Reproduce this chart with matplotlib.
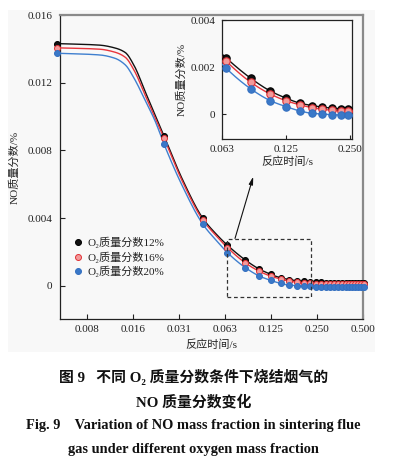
import matplotlib
matplotlib.use("Agg")
import matplotlib.pyplot as plt
from matplotlib.patches import Rectangle
import numpy as np

# ---------------- data ----------------
t_marker = [0.005, 0.025, 0.045, 0.065, 0.085, 0.105, 0.125, 0.145, 0.165, 0.185,
            0.205, 0.225, 0.245, 0.265, 0.285, 0.305, 0.325, 0.345, 0.365, 0.385,
            0.405, 0.425, 0.445, 0.465, 0.485, 0.505]
no_12 = [0.01431, 0.00888, 0.00398, 0.00240, 0.00153, 0.00099, 0.00068, 0.00047, 0.00037, 0.00030,
         0.00026, 0.00023, 0.00021, 0.00020, 0.00019, 0.00018, 0.00018, 0.00017, 0.00017, 0.00016,
         0.00016, 0.00016, 0.00015, 0.00015, 0.00015, 0.00015]
no_16 = [0.01406, 0.00875, 0.00388, 0.00226, 0.00136, 0.00086, 0.00057, 0.00040, 0.00028, 0.00021,
         0.00017, 0.00014, 0.00013, 0.00012, 0.00011, 0.00011, 0.00010, 0.00010, 0.00010, 0.00010,
         0.00009, 0.00009, 0.00009, 0.00009, 0.00009, 0.00009]
no_20 = [0.01374, 0.00839, 0.00363, 0.00196, 0.00108, 0.00058, 0.00032, 0.00014, 0.00004, 0.00001,
         -0.00002, -0.00003, -0.00004, -0.00004, -0.00004, -0.00004, -0.00004, -0.00004, -0.00004, -0.00004,
         -0.00004, -0.00004, -0.00004, -0.00004, -0.00004, -0.00004]

# extra points (between markers)
t_curve_extra = [0.0095, 0.012, 0.014, 0.016, 0.019, 0.022, 0.033, 0.055]
curve12_extra = [0.01422, 0.01405, 0.01378, 0.01300, 0.01141, 0.01006, 0.00630, 0.00305]
curve16_extra = [0.01398, 0.01380, 0.01350, 0.01272, 0.01120, 0.00990, 0.00618, 0.00295]
curve20_extra = [0.01364, 0.01344, 0.01305, 0.01225, 0.01090, 0.00970, 0.00590, 0.00268]

series_labels = ["O₂质量分数12%", "O₂质量分数16%", "O₂质量分数20%"]
x_ticks = [2**-7, 2**-6, 2**-5, 2**-4, 2**-3, 2**-2, 2**-1]
x_ticklabels = ["0.008", "0.016", "0.031", "0.063", "0.125", "0.250", "0.500"]
y_ticks = [0, 0.004, 0.008, 0.012, 0.016]
y_ticklabels = ["0", "0.004", "0.008", "0.012", "0.016"]
inset_x_ticks = [2**-4, 2**-3, 2**-2]
inset_x_ticklabels = ["0.063", "0.125", "0.250"]
inset_y_ticks = [0, 0.002, 0.004]
inset_y_ticklabels = ["0", "0.002", "0.004"]

caption_cn1 = "图 9   不同 O₂ 质量分数条件下烧结烟气的"
caption_cn2 = "NO 质量分数变化"
caption_en1 = "Fig. 9    Variation of NO mass fraction in sintering flue"
caption_en2 = "gas under different oxygen mass fraction"

# ---------------- style ----------------
SERIF = ["Liberation Serif", "Noto Sans CJK SC", "DejaVu Sans"]
plt.rcParams["font.family"] = SERIF
line_colors = ["#111111", "#e8353c", "#3f7fcf"]
marker_face = ["#111111", "#f39a9a", "#3a78c8"]
marker_edge = ["#000000", "#e03035", "#3470c0"]

W, H = 398, 465
fig = plt.figure(figsize=(W / 100, H / 100), dpi=100)

fig.patches.append(Rectangle((8 / W, 1 - 352 / H), (375 - 8) / W, (352 - 10) / H,
                             transform=fig.transFigure, facecolor="#f8f8f8",
                             edgecolor="none", zorder=-10))


def merged(extra_t, extra_v, mt, mv):
    pairs = sorted(zip(list(extra_t) + list(mt), list(extra_v) + list(mv)))
    return np.array([p[0] for p in pairs]), np.array([p[1] for p in pairs])


def smooth_line(t, v, n=400):
    """Monotone (PCHIP) smoothing of the drawn line in log2(t) space."""
    x = np.log2(t)
    y = np.asarray(v, float)
    h = np.diff(x)
    d = np.diff(y) / h
    m = np.zeros_like(y)
    for k in range(1, len(y) - 1):
        if d[k - 1] * d[k] <= 0:
            m[k] = 0.0
        else:
            w1 = 2 * h[k] + h[k - 1]
            w2 = h[k] + 2 * h[k - 1]
            m[k] = (w1 + w2) / (w1 / d[k - 1] + w2 / d[k])
    m[0] = d[0]
    m[-1] = d[-1]
    xn = np.linspace(x[0], x[-1], n)
    idx = np.clip(np.searchsorted(x, xn) - 1, 0, len(h) - 1)
    hh = h[idx]
    s = (xn - x[idx]) / hh
    h00 = 2 * s**3 - 3 * s**2 + 1
    h10 = s**3 - 2 * s**2 + s
    h01 = -2 * s**3 + 3 * s**2
    h11 = s**3 - s**2
    yn = h00 * y[idx] + h10 * hh * m[idx] + h01 * y[idx + 1] + h11 * hh * m[idx + 1]
    return 2 ** xn, yn


curves = [(curve12_extra, no_12), (curve16_extra, no_16), (curve20_extra, no_20)]

# ---------------- main axes ----------------
ax = fig.add_axes([59.5 / W, 1 - 319 / H, (363 - 59.5) / W, (319 - 15) / H])
ax.set_facecolor("none")
ax.set_xscale("log", base=2)
for i, (cx, mv) in enumerate(curves):
    lt, lv = merged(t_curve_extra, cx, t_marker, mv)
    st, sv = smooth_line(lt, lv)
    ax.plot(st, sv, color=line_colors[i], lw=1.0, zorder=2 + i, clip_on=False)
    ax.plot(t_marker, mv, linestyle="none", marker="o", ms=4.3,
            mfc=marker_face[i], mec=marker_edge[i], mew=0.7,
            label=series_labels[i], zorder=5 + i, clip_on=False)
ax.set_xlim(0.0052, 0.5)
ax.set_ylim(-0.00196, 0.016)
ax.set_xticks(x_ticks)
ax.set_xticklabels(x_ticklabels)
ax.xaxis.set_minor_locator(matplotlib.ticker.NullLocator())
ax.set_yticks(y_ticks)
ax.set_yticklabels(y_ticklabels)
ax.tick_params(direction="in", length=3.5, width=0.8, labelsize=8, colors="#222222")
ax.tick_params(axis="y", pad=5)
ax.tick_params(axis="x", pad=4)
for s in ["left", "bottom"]:
    ax.spines[s].set_color("#222222")
    ax.spines[s].set_linewidth(0.9)
for s in ["top", "right"]:
    ax.spines[s].set_color("#8a8a8a")
    ax.spines[s].set_linewidth(1.6)
ax.set_xlabel("反应时间/s", fontsize=8, labelpad=4, color="#222222")
ax.set_ylabel("NO质量分数/%", fontsize=8, labelpad=6, color="#222222")

# dashed zoom box
box_x0, box_x1 = 0.0647, 0.2294
box_y0, box_y1 = -0.00066, 0.00275
ax.plot([box_x0, box_x1, box_x1, box_x0, box_x0],
        [box_y0, box_y0, box_y1, box_y1, box_y0],
        color="#333333", lw=0.9, ls=(0, (3, 2.2)), zorder=10)
ax.annotate("", xy=(0.0959, 0.00645), xytext=(0.0729, 0.0028),
            arrowprops=dict(arrowstyle="-|>,head_length=0.45,head_width=0.12",
                            color="#111111", lw=0.8, shrinkA=0, shrinkB=0), zorder=11)

leg = ax.legend(loc="upper left", bbox_to_anchor=(0.035, 0.285), frameon=False,
                fontsize=8, handlelength=0.6, handletextpad=0.6,
                labelspacing=0.28, borderaxespad=0)
for t in leg.get_texts():
    t.set_color("#222222")

# ---------------- inset ----------------
axi = fig.add_axes([222.3 / W, 1 - 139 / H, (351.7 - 222.3) / W, (139 - 20) / H])
axi.set_facecolor("#fbfbfb")
axi.set_xscale("log", base=2)
for i, (cx, mv) in enumerate(curves):
    lt, lv = merged(t_curve_extra, cx, t_marker, mv)
    st, sv = smooth_line(lt, lv, n=1200)
    axi.plot(st, sv, color=line_colors[i], lw=1.0, zorder=2 + i)
    axi.plot(t_marker, mv, linestyle="none", marker="o", ms=5.3,
             mfc=marker_face[i], mec=marker_edge[i], mew=0.8, zorder=5 + i)
axi.set_xlim(2**-4, 0.254)
axi.set_ylim(-0.00105, 0.004)
axi.set_xticks(inset_x_ticks)
axi.set_xticklabels(inset_x_ticklabels)
axi.xaxis.set_minor_locator(matplotlib.ticker.NullLocator())
axi.set_yticks(inset_y_ticks)
axi.set_yticklabels(inset_y_ticklabels)
axi.tick_params(direction="in", length=3, width=0.8, labelsize=8, colors="#222222")
axi.tick_params(axis="y", pad=5)
axi.tick_params(axis="x", pad=4)
for s in axi.spines.values():
    s.set_color("#222222")
    s.set_linewidth(0.9)
axi.set_xlabel("反应时间/s", fontsize=8, labelpad=2, color="#222222")
axi.set_ylabel("NO质量分数/%", fontsize=8, labelpad=3, color="#222222")

# ---------------- captions ----------------
cx_fig = 193.5 / W
fig.text(cx_fig, 1 - 377 / H, caption_cn1, ha="center", va="center",
         fontsize=10.7, fontweight="bold", color="#111111")
fig.text(cx_fig, 1 - 402 / H, caption_cn2, ha="center", va="center",
         fontsize=10.7, fontweight="bold", color="#111111")
fig.text(cx_fig, 1 - 425 / H, caption_en1, ha="center", va="center",
         fontsize=10.4, fontweight="bold", color="#111111")
fig.text(cx_fig, 1 - 449.5 / H, caption_en2, ha="center", va="center",
         fontsize=10.4, fontweight="bold", color="#111111")

fig.savefig("out.png", dpi=100, facecolor="white")
